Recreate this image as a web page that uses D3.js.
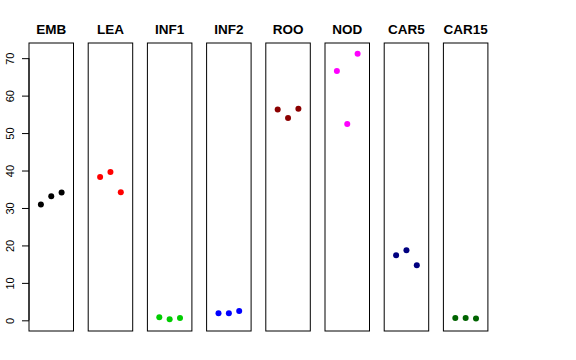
<!DOCTYPE html>
<html><head><meta charset="utf-8">
<script src="https://cdn.jsdelivr.net/npm/d3@7"></script>
<style>body{margin:0;background:#fff}svg{display:block}</style>
</head><body>
<svg id="c" width="576" height="360"></svg>
<script>
const categories = ["EMB","LEA","INF1","INF2","ROO","NOD","CAR5","CAR15"];
const colors = ["#000000","#FF0000","#00CD00","#0000FF","#8B0000","#FF00FF","#000080","#006400"];
const rep1 = [30.9, 38.3, 0.8, 1.9, 56.3, 66.6, 17.4, 0.6];
const rep2 = [33.1, 39.6, 0.3, 1.9, 54.0, 52.4, 18.7, 0.6];
const rep3 = [34.1, 34.2, 0.6, 2.5, 56.5, 71.2, 14.7, 0.5];
const yTicks = [0,10,20,30,40,50,60,70];

(function(){
const svg = d3.select("#c");
const pTop = 43, pBottom = 331;
const x0 = 29, step = 59.2, pw = 44.5;
const y = d3.scaleLinear().domain([-2.85, 74.05]).range([pBottom, pTop]);
const xp = d3.scaleLinear().domain([-0.15, 4.15]).range([0, pw]);

categories.forEach((cat, i) => {
  const g = svg.append("g").attr("transform", `translate(${x0 + i*step},0)`);
  g.append("rect").attr("x",0).attr("y",pTop).attr("width",pw).attr("height",pBottom-pTop)
    .attr("fill","none").attr("stroke","#000").attr("stroke-width",1);
  g.append("text").attr("x",pw/2).attr("y",34).attr("text-anchor","middle")
    .attr("font-family","Liberation Sans, Arial, sans-serif").attr("font-weight","bold")
    .attr("font-size",13.5).text(cat);
  const vals = [rep1[i], rep2[i], rep3[i]];
  g.selectAll("circle").data(vals).enter().append("circle")
    .attr("cx",(d,j)=>xp(j+1)).attr("cy",d=>y(d)).attr("r",3).attr("fill",colors[i]);
});

const ax = svg.append("g").attr("transform",`translate(${x0},0)`)
  .call(d3.axisLeft(y).tickValues(yTicks).tickSize(7).tickPadding(4).tickFormat(d3.format("d")));
ax.select(".domain").attr("stroke","none");
ax.append("line").attr("x1",0).attr("x2",0).attr("y1",y(0)).attr("y2",y(70)).attr("stroke","#000");
ax.selectAll(".tick text")
  .attr("font-family","Liberation Sans, Arial, sans-serif").attr("font-size",11)
  .attr("fill","#000")
  .attr("transform", "translate(-19,0) rotate(-90)")
  .attr("x",0).attr("dy",0).attr("y",0).attr("text-anchor","middle").attr("dominant-baseline","central");
})();
</script>
</body></html>
